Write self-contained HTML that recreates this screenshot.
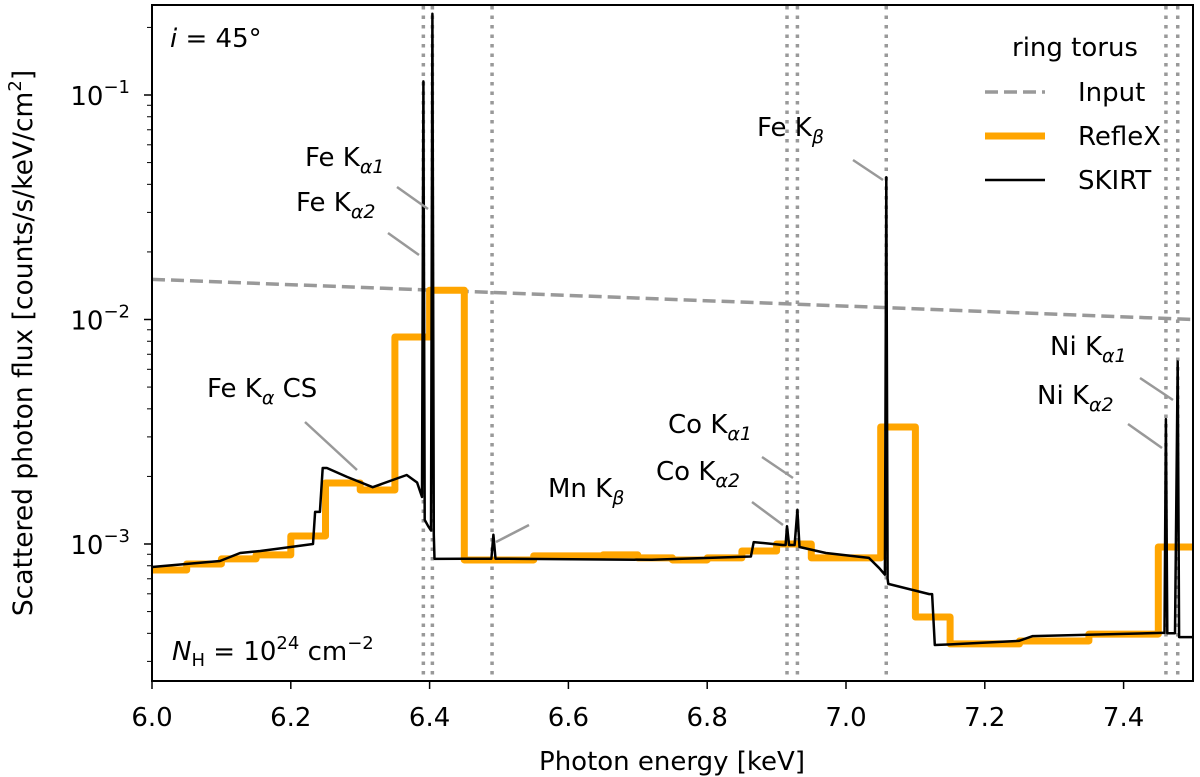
<!DOCTYPE html>
<html><head><meta charset="utf-8"><style>
body{margin:0;background:#fff}
svg{display:block;font-family:"DejaVu Sans","Liberation Sans",sans-serif}
</style></head><body>
<svg id="chart" width="1200" height="777" viewBox="0 0 1200 777" xmlns="http://www.w3.org/2000/svg">
<g id="dots"></g>
<g id="series"></g>
<rect x="152" y="5" width="1041" height="676" fill="none" stroke="#000" stroke-width="2"/>
<g id="axes" font-size="26"></g>
<text x="672" y="770" font-size="26" text-anchor="middle">Photon energy [keV]</text>
<text transform="translate(32,343) rotate(-90)" font-size="26.5" text-anchor="middle">Scattered photon flux [counts/s/keV/cm<tspan dy="-11" font-size="18">2</tspan><tspan dy="11">]</tspan></text>
<text x="170" y="47" font-size="26"><tspan font-style="italic">i</tspan> = 45°</text>
<text x="172" y="660" font-size="26"><tspan font-style="italic">N</tspan><tspan font-size="18" dy="6">H</tspan><tspan dy="-6"> = 10</tspan><tspan font-size="18" dy="-11">24</tspan><tspan dy="11"> cm</tspan><tspan font-size="18" dy="-11">−2</tspan></text>
<g font-size="26">
<text x="1012" y="56">ring torus</text>
<line x1="985" y1="92" x2="1045" y2="92" stroke="#999" stroke-width="3.5" stroke-dasharray="13,6"/>
<text x="1078" y="101">Input</text>
<line x1="985" y1="136" x2="1045" y2="136" stroke="#ffa500" stroke-width="7"/>
<text x="1078" y="145">RefleX</text>
<line x1="985" y1="180" x2="1045" y2="180" stroke="#000" stroke-width="2.5"/>
<text x="1078" y="189">SKIRT</text>
</g>
<g id="ann" font-size="26"></g>
</svg>
<script>
const inputE=[6.0,7.5];
const inputV=[0.0151,0.0100];
const reflexE=[6.00,6.05,6.10,6.15,6.20,6.25,6.30,6.35,6.40,6.45,6.50,6.55,6.60,6.65,6.70,6.75,6.80,6.85,6.90,6.95,7.00,7.05,7.10,7.15,7.20,7.25,7.30,7.35,7.40,7.45];
const reflexV=[7.66e-4,8.15e-4,8.58e-4,8.94e-4,1.086e-3,1.87e-3,1.74e-3,8.36e-3,1.35e-2,8.49e-4,8.49e-4,8.85e-4,8.85e-4,8.94e-4,8.67e-4,8.49e-4,8.67e-4,9.31e-4,1.0e-3,8.67e-4,8.67e-4,3.32e-3,4.73e-4,3.59e-4,3.59e-4,3.70e-4,3.70e-4,3.97e-4,3.97e-4,9.7e-4];
const skirtE=[6.00,6.098,6.127,6.156,6.189,6.232,6.235,6.242,6.246,6.252,6.281,6.318,6.367,6.382,6.389,6.391,6.393,6.398,6.402,6.404,6.406,6.407,6.45,6.489,6.492,6.495,6.72,6.863,6.867,6.909,6.913,6.915,6.918,6.926,6.930,6.933,6.971,7.033,7.048,7.056,7.058,7.060,7.061,7.120,7.124,7.128,7.151,7.249,7.269,7.454,7.459,7.461,7.463,7.474,7.478,7.480,7.5];
const skirtV=[7.90e-4,8.40e-4,9.12e-4,9.31e-4,9.6e-4,1.0e-3,1.39e-3,1.39e-3,2.18e-3,2.18e-3,1.99e-3,1.79e-3,2.03e-3,1.88e-3,1.62e-3,0.115,1.28e-3,1.2e-3,1.15e-3,0.23,1.1e-3,8.58e-4,8.6e-4,8.6e-4,1.10e-3,8.6e-4,8.5e-4,8.8e-4,1.02e-3,9.9e-4,9.9e-4,1.20e-3,9.9e-4,9.9e-4,1.42e-3,9.7e-4,9.12e-4,8.67e-4,7.8e-4,7.3e-4,0.043,7.0e-4,6.64e-4,5.98e-4,5.98e-4,3.55e-4,3.57e-4,3.70e-4,3.89e-4,4.02e-4,4.02e-4,0.0036,4.0e-4,4.0e-4,0.0065,3.85e-4,3.85e-4];
const lineE=[6.391,6.404,6.490,6.915,6.930,7.058,7.461,7.478];
const xTicks=[6.0,6.2,6.4,6.6,6.8,7.0,7.2,7.4];
const xTickLabels=["6.0","6.2","6.4","6.6","6.8","7.0","7.2","7.4"];
const yTickExp=[-1,-2,-3];

const NS="http://www.w3.org/2000/svg";
const BOT=681;
const X=e=>152+(e-6.0)*694;
const Y=v=>95-224.5*(Math.log10(v)+1);
function mk(tag,attrs,parent,txt){const el=document.createElementNS(NS,tag);for(const k in attrs)el.setAttribute(k,attrs[k]);if(txt!==undefined)el.textContent=txt;parent.appendChild(el);return el;}
const dots=document.getElementById('dots'),series=document.getElementById('series'),axes=document.getElementById('axes'),ann=document.getElementById('ann');

lineE.forEach(e=>{const l=mk('line',{x1:X(e),y1:6,x2:X(e),y2:BOT-1,stroke:'#999','stroke-width':3.5,'stroke-dasharray':'3.5,6'},dots);

});

let d='M'+X(inputE[0])+','+Y(inputV[0]);for(let i=1;i<inputE.length;i++)d+='L'+X(inputE[i])+','+Y(inputV[i]);
const inp=mk('path',{d:d,fill:'none',stroke:'#999','stroke-width':3.5,'stroke-dasharray':'13,6'},series);



d='';for(let i=0;i<reflexE.length;i++){const x0=X(reflexE[i]),x1=X(i+1<reflexE.length?reflexE[i+1]:7.5),y=Y(reflexV[i]);d+=(i?'L':'M')+x0+','+y+'L'+x1+','+y;}
const rf=mk('path',{d:d,fill:'none',stroke:'#ffa500','stroke-width':7,'stroke-linejoin':'round'},series);



d='';for(let i=0;i<skirtE.length;i++)d+=(i?'L':'M')+X(skirtE[i]).toFixed(1)+','+Math.max(4,Y(skirtV[i])).toFixed(1);
const sk=mk('path',{d:d,fill:'none',stroke:'#000','stroke-width':2.5,'stroke-linejoin':'round'},series);



xTicks.forEach((t,i)=>{mk('line',{x1:X(t),y1:BOT,x2:X(t),y2:BOT+8,stroke:'#000','stroke-width':1.5},axes);
const tl=mk('text',{x:X(t),y:726,'text-anchor':'middle'},axes,xTickLabels[i]);

});
yTickExp.forEach(p=>{const y=Y(Math.pow(10,p));mk('line',{x1:144,y1:y,x2:152,y2:y,stroke:'#000','stroke-width':1.5},axes);
const tl=mk('text',{x:130,y:y+10,'text-anchor':'end'},axes);


tl.innerHTML='10<tspan dy="-12" font-size="18">−'+(-p)+'</tspan>';
for(let m=2;m<10;m++){const v=m*Math.pow(10,p-1);const yy=Y(v);if(yy>5&&yy<BOT)mk('line',{x1:147,y1:yy,x2:152,y2:yy,stroke:'#000','stroke-width':1},axes);}});
[2,3,4,5,6,7,8,9].forEach(m=>{const yy=Y(m*0.1);if(yy>5)mk('line',{x1:147,y1:yy,x2:152,y2:yy,stroke:'#000','stroke-width':1},axes);});

const labels=[
["Fe K","α1",305,166,397,187,428,209],
["Fe K","α2",296,211,388,233,419,255],
["Fe K","β",757,136,853,160,883,180],
["Fe K","α",207,397,305,422,357,470," CS"],
["Mn K","β",548,497,496,542,529,525],
["Co K","α1",668,433,762,457,793,478],
["Co K","α2",656,480,752,502,783,525],
["Ni K","α1",1050,355,1140,378,1173,400],
["Ni K","α2",1037,404,1128,424,1162,448]];
labels.forEach(L=>{const g=mk('g',{},ann);


const t=mk('text',{x:L[2],y:L[3]},g);
t.innerHTML=L[0]+'<tspan font-size="19" font-style="italic" dy="7">'+L[1]+'</tspan>'+(L[8]?'<tspan dy="-7" xml:space="preserve">'+L[8]+'</tspan>':'');
mk('line',{x1:L[4],y1:L[5],x2:L[6],y2:L[7],stroke:'#999','stroke-width':2.5},g);});
</script>
</body></html>
